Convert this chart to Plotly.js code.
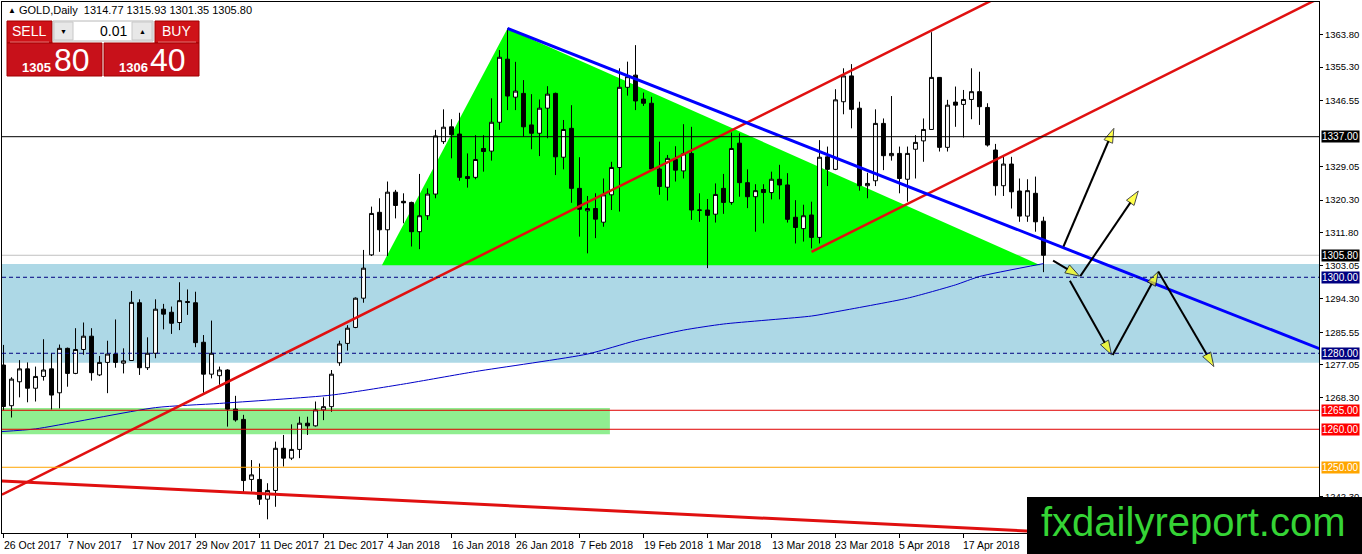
<!DOCTYPE html>
<html>
<head>
<meta charset="utf-8">
<script src="https://cdn.plot.ly/plotly-3.0.1.min.js"></script>
<style>
html, body { margin: 0; padding: 0; background: #fff; }
#chart { width: 1362px; height: 554px; }
</style>
</head>
<body>
<div id="chart"></div>
<script>
// GOLD daily, 26 Oct 2017 .. 27 Apr 2018
var opens = [
  1276.9, 1266.2, 1272.5, 1275.9, 1270.8, 1273.9, 1275.9, 1269.6, 1281.3, 1274.7,
  1281.0, 1284.5, 1274.3, 1277.6, 1279.8, 1277.4, 1278.1, 1293.3, 1276.2, 1280.0,
  1291.6, 1290.8, 1288.1, 1293.6, 1293.3, 1282.9, 1274.5, 1274.1, 1275.6, 1265.3,
  1262.6, 1246.8, 1246.8, 1241.6, 1243.9, 1255.0, 1252.4, 1254.7, 1261.6, 1260.9,
  1265.1, 1265.95, 1277.5, 1282.6, 1286.8, 1294.5, 1305.9, 1317.1, 1312.5, 1322.4,
  1320.0, 1319.7, 1312.0, 1316.2, 1321.9, 1335.7, 1339.6, 1337.7, 1326.5, 1326.3,
  1333.9, 1333.2, 1340.8, 1357.4, 1347.4, 1348.4, 1340.1, 1337.9, 1344.5, 1348.4,
  1331.6, 1339.2, 1323.4, 1317.5, 1318.1, 1314.5, 1321.7, 1328.9, 1350.0, 1353.2,
  1346.9, 1345.8, 1328.5, 1323.7, 1331.0, 1328.0, 1332.6, 1317.6, 1317.7, 1316.6,
  1323.4, 1319.7, 1335.3, 1324.9, 1321.2, 1323.1, 1322.3, 1325.8, 1324.3, 1315.8,
  1312.8, 1316.4, 1310.5, 1331.7, 1328.4, 1346.2, 1353.0, 1344.5, 1324.1, 1325.4,
  1340.5, 1332.0, 1332.6, 1325.8, 1333.7, 1335.9, 1338.9, 1352.6, 1334.2, 1346.1,
  1345.5, 1346.8, 1348.85, 1344.7, 1333.5, 1324.1, 1329.8, 1322.7, 1316.1, 1322.1,
  1314.77
];
var highs = [
  1282.2, 1273.7, 1278.2, 1277.6, 1276.5, 1283.7, 1280.0, 1282.3, 1281.5, 1286.6,
  1288.1, 1286.6, 1279.3, 1283.3, 1288.9, 1281.3, 1296.4, 1294.2, 1284.2, 1294.2,
  1293.0, 1292.3, 1298.7, 1296.8, 1296.2, 1284.8, 1288.6, 1276.5, 1275.8, 1268.8,
  1263.8, 1251.9, 1251.0, 1245.8, 1256.75, 1258.5, 1261.3, 1263.3, 1263.3, 1267.3,
  1268.4, 1275.6, 1283.3, 1287.4, 1294.7, 1307.2, 1318.6, 1320.8, 1325.2, 1323.0,
  1322.1, 1319.9, 1327.2, 1323.4, 1338.8, 1344.2, 1341.6, 1343.3, 1332.6, 1337.4,
  1337.4, 1347.1, 1359.8, 1365.5, 1356.7, 1351.9, 1348.2, 1346.8, 1350.3, 1348.6,
  1341.4, 1345.3, 1331.6, 1321.4, 1322.1, 1326.0, 1330.4, 1355.0, 1356.75, 1361.1,
  1348.6, 1347.5, 1335.7, 1332.2, 1334.5, 1340.3, 1339.6, 1322.1, 1320.6, 1324.7,
  1327.2, 1338.1, 1337.9, 1328.4, 1324.5, 1324.5, 1327.8, 1329.6, 1327.4, 1320.3,
  1319.1, 1319.9, 1336.1, 1334.4, 1349.5, 1355.0, 1356.1, 1346.2, 1327.5, 1344.2,
  1341.8, 1347.7, 1334.4, 1334.4, 1337.4, 1341.8, 1364.5, 1352.7, 1346.7, 1350.2,
  1349.3, 1355.0, 1354.1, 1345.8, 1335.1, 1331.7, 1331.7, 1326.0, 1325.8, 1326.5,
  1315.93
];
var lows = [
  1265.0, 1263.1, 1268.4, 1267.1, 1267.3, 1272.8, 1265.2, 1265.5, 1271.2, 1274.5,
  1279.6, 1272.8, 1274.0, 1269.5, 1276.2, 1274.7, 1278.0, 1274.3, 1275.6, 1278.7,
  1286.3, 1285.1, 1286.1, 1290.1, 1281.6, 1269.6, 1273.4, 1271.7, 1260.7, 1262.0,
  1243.1, 1243.6, 1240.1, 1236.3, 1239.6, 1250.2, 1251.9, 1252.4, 1258.5, 1260.7,
  1262.4, 1264.6, 1276.7, 1280.7, 1286.6, 1293.3, 1305.6, 1306.7, 1305.6, 1315.5,
  1314.2, 1308.1, 1307.4, 1315.1, 1320.8, 1335.1, 1331.3, 1325.4, 1323.6, 1325.8,
  1327.8, 1330.7, 1338.8, 1344.0, 1344.0, 1337.0, 1333.7, 1331.9, 1336.6, 1326.9,
  1328.4, 1319.6, 1310.7, 1306.3, 1310.3, 1313.3, 1317.7, 1317.3, 1347.8, 1344.0,
  1345.1, 1328.2, 1321.7, 1320.2, 1325.2, 1326.0, 1315.1, 1314.6, 1302.4, 1314.4,
  1316.7, 1319.1, 1321.2, 1318.2, 1312.0, 1314.2, 1320.5, 1320.5, 1314.4, 1308.9,
  1309.4, 1307.6, 1308.9, 1324.0, 1328.2, 1342.9, 1339.2, 1322.8, 1320.8, 1324.0,
  1328.2, 1330.7, 1322.1, 1319.9, 1326.0, 1330.4, 1338.8, 1333.1, 1333.1, 1339.6,
  1336.8, 1341.6, 1340.1, 1334.4, 1321.5, 1321.4, 1318.1, 1314.6, 1314.6, 1312.0,
  1301.35
];
var closes = [
  1266.0, 1273.2, 1275.9, 1270.8, 1273.9, 1275.6, 1269.0, 1281.3, 1274.7, 1281.0,
  1284.5, 1274.9, 1277.6, 1279.8, 1277.6, 1278.0, 1293.4, 1276.2, 1280.0, 1291.6,
  1290.3, 1287.9, 1293.85, 1293.4, 1282.8, 1274.5, 1280.0, 1275.6, 1265.3, 1262.45,
  1246.5, 1248.0, 1241.6, 1243.9, 1255.0, 1252.4, 1254.7, 1261.6, 1260.9, 1265.1,
  1265.95, 1274.5, 1282.45, 1286.6, 1294.5, 1302.4, 1316.8, 1312.5, 1322.4, 1318.9,
  1319.6, 1312.0, 1316.2, 1321.9, 1337.2, 1339.5, 1337.5, 1326.3, 1326.0, 1331.0,
  1333.1, 1340.8, 1357.9, 1347.7, 1349.0, 1339.6, 1337.9, 1344.5, 1348.2, 1331.7,
  1338.9, 1323.4, 1317.9, 1318.1, 1315.3, 1321.7, 1328.9, 1350.0, 1352.8, 1346.4,
  1345.8, 1328.5, 1323.9, 1331.3, 1328.2, 1332.5, 1317.7, 1317.7, 1316.3, 1321.8,
  1319.7, 1333.9, 1324.9, 1321.2, 1322.8, 1322.3, 1325.8, 1324.3, 1315.25, 1313.1,
  1316.2, 1310.5, 1331.6, 1328.4, 1346.7, 1353.0, 1344.2, 1324.1, 1324.7, 1340.5,
  1332.0, 1332.6, 1326.0, 1332.6, 1335.5, 1338.9, 1352.6, 1334.2, 1345.3, 1345.3,
  1346.8, 1348.85, 1344.9, 1334.8, 1324.1, 1329.8, 1322.5, 1316.1, 1322.8, 1314.6,
  1305.80
];

// date labels, one every 8 bars
var xTickLabels = ['26 Oct 2017', '7 Nov 2017', '17 Nov 2017', '29 Nov 2017', '11 Dec 2017',
  '21 Dec 2017', '4 Jan 2018', '16 Jan 2018', '26 Jan 2018', '7 Feb 2018', '19 Feb 2018',
  '1 Mar 2018', '13 Mar 2018', '23 Mar 2018', '5 Apr 2018', '17 Apr 2018'];
var barsPerLabel = 8;

// price scale ticks (the ones under the coloured level labels are left out)
var yTicks = [1363.80, 1355.30, 1346.55, 1329.05, 1320.30, 1311.80, 1303.05, 1294.30,
  1285.55, 1277.05, 1268.30, 1242.30];

// moving average (bar index / value)
var maBars = [-0.2, 4, 19, 27, 41, 50, 59, 73, 79, 85, 90, 101, 104, 113, 119, 122, 130];
var maVals = [1259.4, 1260.1, 1265.7, 1266.8, 1269.0, 1271.9, 1275.2, 1279.8, 1283.3,
  1286.1, 1287.7, 1289.8, 1290.9, 1294.5, 1298.0, 1300.2, 1303.6];

// horizontal levels
var levelPrices = [1337.00, 1305.80, 1300.00, 1280.00, 1265.00, 1260.00, 1250.00];
var levelColors = ['#000000', '#c0c0c0', '#000080', '#000080', '#e00000', '#e00000', '#ffa500'];
var levelDash = ['solid', 'solid', '4px,3px', '4px,3px', 'solid', 'solid', 'solid'];
var labelBg = ['#000000', '#000000', '#000080', '#000080', '#ff0000', '#ff0000', '#ffa500'];

// zones
var blueZone = [1277.5, 1303.5];
var greenZoneBars = [-0.2, 75.8];
var greenZone = [1258.7, 1265.6];

// green triangle
var triBars = [47.3, 63.0, 129.6];
var triPrices = [1303.2, 1365.5, 1303.2];

// trend lines
var blueBars = [63.0, 164.5], bluePrices = [1365.5, 1281.2];
var red1Bars = [-0.2, 124.5], red1Prices = [1242.8, 1373.9];
var red2Bars = [101.0, 165.0], red2Prices = [1306.7, 1374.0];
var red3Bars = [-0.2, 165.0], red3Prices = [1246.4, 1229.4];

// forecast arrows
var arrowFromBar = [132.5, 134.6, 131.2, 133.3, 138.65, 144.35];
var arrowFromPrice = [1308.1, 1300.3, 1304.4, 1299.1, 1279.55, 1301.5];
var arrowToBar = [138.8, 141.85, 134.5, 138.5, 144.35, 151.3];
var arrowToPrice = [1339.2, 1322.7, 1300.3, 1279.6, 1301.5, 1276.5];

var barIdx = closes.map(function (c, i) { return i; });

// page pixel -> paper coords
function px(x) { return (x - 2) / 1317; }
function py(y) { return (533 - y) / 531; }

var traces = [];
traces.push({
  type: 'candlestick', x: barIdx, open: opens, high: highs, low: lows, close: closes,
  increasing: { line: { color: '#000', width: 1 }, fillcolor: '#ffffff' },
  decreasing: { line: { color: '#000', width: 1 }, fillcolor: '#000000' },
  whiskerwidth: 0, hoverinfo: 'skip'
});
traces.push({ type: 'scatter', mode: 'lines', x: maBars, y: maVals,
  line: { color: '#0000c8', width: 1, shape: 'spline', smoothing: 0.6 }, hoverinfo: 'skip' });
traces.push({ type: 'scatter', mode: 'lines', x: red1Bars, y: red1Prices,
  line: { color: '#e01010', width: 2.5 }, hoverinfo: 'skip' });
traces.push({ type: 'scatter', mode: 'lines', x: red2Bars, y: red2Prices,
  line: { color: '#e01010', width: 2.5 }, hoverinfo: 'skip' });
traces.push({ type: 'scatter', mode: 'lines', x: red3Bars, y: red3Prices,
  line: { color: '#e01010', width: 3 }, hoverinfo: 'skip' });
traces.push({ type: 'scatter', mode: 'lines', x: blueBars, y: bluePrices,
  line: { color: '#0000ff', width: 3 }, hoverinfo: 'skip' });

for (var i = 0; i < arrowFromBar.length; i++) {
  traces.push({
    type: 'scatter', mode: 'lines+markers',
    x: [arrowFromBar[i], arrowToBar[i]], y: [arrowFromPrice[i], arrowToPrice[i]],
    line: { color: '#000', width: 2 },
    marker: { symbol: 'arrow', angleref: 'previous', size: [0, 15], color: '#ffff00',
      line: { color: '#000', width: 1 } },
    hoverinfo: 'skip'
  });
}

var shapes = [];
shapes.push({ type: 'rect', xref: 'paper', x0: 0, x1: 1, yref: 'y', y0: blueZone[0], y1: blueZone[1],
  fillcolor: '#add8e6', line: { width: 0 }, layer: 'below' });
shapes.push({ type: 'rect', xref: 'x', x0: greenZoneBars[0], x1: greenZoneBars[1], yref: 'y',
  y0: greenZone[0], y1: greenZone[1], fillcolor: '#90ee90', line: { width: 0 }, layer: 'below' });
var triPath = 'M' + triBars.map(function (b, k) { return b + ',' + triPrices[k]; }).join(' L') + ' Z';
shapes.push({ type: 'path', xref: 'x', yref: 'y', path: triPath, fillcolor: '#00ff00',
  line: { width: 0 }, layer: 'below' });
levelPrices.forEach(function (p, k) {
  shapes.push({ type: 'line', xref: 'paper', x0: 0, x1: 1, yref: 'y', y0: p, y1: p,
    line: { color: levelColors[k], width: 1, dash: levelDash[k] }, layer: k === 1 ? 'below' : 'above' });
});

// one-click trading panel
function box(x0, y0, x1, y1, fill, lc) {
  shapes.push({ type: 'rect', xref: 'paper', yref: 'paper', x0: px(x0), x1: px(x1), y0: py(y1), y1: py(y0),
    fillcolor: fill, line: { color: lc, width: 1 }, layer: 'above' });
}
box(7, 21, 52, 43, '#cf1218', '#a00000');
box(155, 21, 199, 43, '#cf1218', '#a00000');
box(7, 43, 102, 76, '#c8111a', '#a00000');
box(104, 43, 199, 76, '#c8111a', '#a00000');
box(53, 21, 153, 41, '#ffffff', '#b8b8b8');
box(54, 22, 73, 40, '#e8e8e8', '#c8c8c8');
box(132, 22, 152, 40, '#e8e8e8', '#c8c8c8');
shapes.push({ type: 'line', xref: 'paper', yref: 'paper', x0: px(10), x1: px(49), y0: py(42), y1: py(42),
  line: { color: '#e07070', width: 1 }, layer: 'above' });
shapes.push({ type: 'line', xref: 'paper', yref: 'paper', x0: px(158), x1: px(196), y0: py(42), y1: py(42),
  line: { color: '#e07070', width: 1 }, layer: 'above' });

// watermark box
shapes.push({ type: 'rect', xref: 'paper', yref: 'paper', x0: px(1027), x1: px(1366), y0: py(558), y1: py(497),
  fillcolor: '#000000', line: { width: 0 }, layer: 'above' });

var F = 'Liberation Sans, Arial, sans-serif';
var annotations = [];
function txt(x, y, t, size, color, anchor) {
  annotations.push({ xref: 'paper', yref: 'paper', x: px(x), y: py(y), text: t, showarrow: false,
    xanchor: anchor || 'center', yanchor: 'middle', font: { family: F, size: size, color: color } });
}
txt(6, 10, '▲', 8, '#000', 'left');
txt(17, 10, 'GOLD,Daily  1314.77 1315.93 1301.35 1305.80', 11, '#000', 'left');
txt(29, 31, 'SELL', 14, '#fff');
txt(177, 31, 'BUY', 14, '#fff');
txt(129, 31, '0.01', 14, '#000', 'right');
txt(63, 31, '▼', 7, '#000');
txt(142, 31, '▲', 7, '#000');
txt(36, 68, '<b>1305</b>', 13, '#fff');
txt(72, 60, '80', 32, '#fff');
txt(133, 68, '<b>1306</b>', 13, '#fff');
txt(168, 60, '40', 32, '#fff');
txt(1193, 522, 'fxdailyreport.com', 40, '#35d435');

// date labels start at their tick, as on the terminal
xTickLabels.forEach(function (l, i) {
  annotations.push({ xref: 'x', yref: 'paper', x: i * barsPerLabel, y: 0, xanchor: 'left', yanchor: 'top',
    xshift: -2, yshift: -4, text: l, showarrow: false, font: { family: F, size: 10.5, color: '#000' } });
});

levelPrices.forEach(function (p, k) {
  annotations.push({ xref: 'paper', yref: 'y', x: 1, y: p, xanchor: 'left', yanchor: 'middle',
    xshift: 2, text: p.toFixed(2), showarrow: false, bgcolor: labelBg[k], borderpad: 0,
    font: { family: F, size: 10, color: '#ffffff' } });
});

var layout = {
  width: 1362, height: 554,
  margin: { l: 2, r: 43, t: 2, b: 21, pad: 0 },
  paper_bgcolor: '#ffffff', plot_bgcolor: '#ffffff',
  showlegend: false,
  font: { family: F, size: 10, color: '#000' },
  xaxis: {
    range: [-0.19, 164.44], showgrid: false, zeroline: false,
    showline: true, mirror: true, linecolor: '#000', linewidth: 1,
    ticks: 'outside', ticklen: 4, tickcolor: '#000',
    tickvals: xTickLabels.map(function (l, i) { return i * barsPerLabel; }),
    showticklabels: false,
    rangeslider: { visible: false }, fixedrange: true
  },
  yaxis: {
    side: 'right', range: [1232.7, 1372.45], showgrid: false, zeroline: false,
    showline: true, mirror: true, linecolor: '#000', linewidth: 1,
    ticks: 'outside', ticklen: 3, tickcolor: '#000',
    tickvals: yTicks, ticktext: yTicks.map(function (v) { return v.toFixed(2); }),
    tickfont: { family: F, size: 9.5, color: '#000' },
    fixedrange: true
  },
  shapes: shapes,
  annotations: annotations
};

Plotly.newPlot('chart', traces, layout, { staticPlot: true, displayModeBar: false });
</script>
</body>
</html>
